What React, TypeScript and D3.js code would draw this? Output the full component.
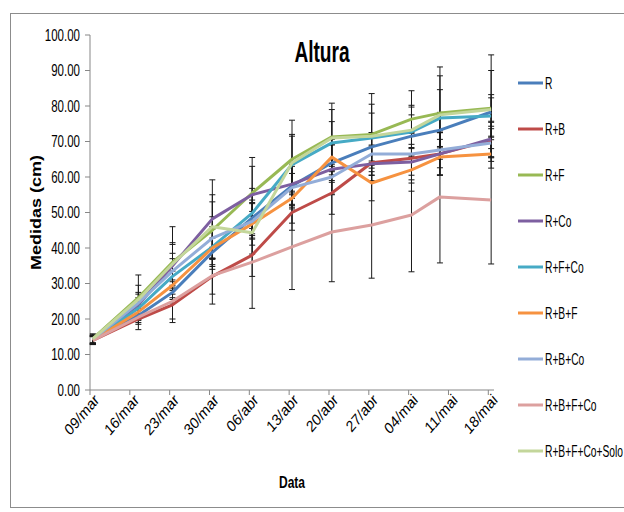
import React from 'react';
import * as d3 from 'd3';

// measurement dates (one point per date)
const dates = ['2013-03-09', '2013-03-17', '2013-03-23', '2013-03-30', '2013-04-06', '2013-04-13',
  '2013-04-20', '2013-04-27', '2013-05-04', '2013-05-09', '2013-05-18'];

const tickLabels = ['09/mar', '16/mar', '23/mar', '30/mar', '06/abr', '13/abr', '20/abr', '27/abr', '04/mai', '11/mai', '18/mai'];
const yTicks = [0, 10, 20, 30, 40, 50, 60, 70, 80, 90, 100];

const seriesNames = ['R', 'R+B', 'R+F', 'R+Co', 'R+F+Co', 'R+B+F', 'R+B+Co', 'R+B+F+Co', 'R+B+F+Co+Solo'];
const seriesColors = ['#4A7EBB', '#BE4B48', '#98B954', '#7D5FA0', '#46AAC5', '#F69240', '#93ADD8', '#DCA09F', '#C3D69B'];

const valR = [14.2, 21.0, 27.5, 38.8, 48.5, 57.5, 64.0, 68.5, 71.5, 73.2, 78.3];
const valRB = [14.0, 20.0, 24.0, 32.0, 38.0, 50.0, 55.5, 64.0, 65.3, 66.5, 70.4];
const valRF = [14.5, 26.0, 36.0, 45.0, 55.5, 65.0, 71.3, 72.0, 76.3, 78.0, 79.4];
const valRCo = [14.2, 24.0, 35.0, 48.2, 55.0, 58.0, 62.2, 63.7, 64.2, 66.5, 70.7];
const valRFCo = [14.0, 23.0, 32.0, 40.3, 49.8, 63.5, 69.6, 71.0, 72.7, 76.6, 77.2];
const valRBF = [14.0, 22.0, 29.5, 40.0, 46.8, 54.0, 65.6, 58.3, 62.0, 65.6, 66.5];
const valRBCo = [14.3, 24.5, 33.5, 42.8, 47.5, 57.0, 60.0, 66.5, 66.5, 67.6, 69.6];
const valRBFCo = [14.0, 20.5, 25.0, 32.2, 36.0, 40.3, 44.5, 46.5, 49.3, 54.4, 53.5];
const valSolo = [14.4, 25.5, 35.5, 46.0, 44.3, 64.0, 71.0, 71.5, 73.2, 77.5, 79.0];

// standard deviations (error bars)
const sdR = [1.2, 2, 3, 4, 5, 6, 5, 4, 6, 5, 4];
const sdRB = [1.2, 1.5, 4, 5, 6, 5, 6, 5, 7, 6, 5];
const sdRF = [1.3, 6.4, 10, 8, 10, 11, 9.5, 11.5, 8, 13, 15];
const sdRCo = [1.0, 3, 6, 11, 8, 6, 7, 5, 5, 6, 5];
const sdRFCo = [1.1, 3, 5, 5, 7, 8, 6, 7, 7, 8, 6];
const sdRBF = [1.2, 2, 4, 6, 6, 7, 5, 5, 6, 5, 4];
const sdRBCo = [1.0, 3, 5, 6, 5, 6, 5, 6, 6, 5, 4];
const sdRBFCo = [1.0, 3.5, 6, 8, 13, 12, 14, 15, 16, 18.6, 18];
const sdSolo = [1.3, 4, 6, 9, 6, 8, 8, 9, 7, 11, 11];

const values = [valR, valRB, valRF, valRCo, valRFCo, valRBF, valRBCo, valRBFCo, valSolo];
const sds = [sdR, sdRB, sdRF, sdRCo, sdRFCo, sdRBF, sdRBCo, sdRBFCo, sdSolo];

const FONT = '"Liberation Sans", Arial, sans-serif';

function App() {
  const parse = d3.utcParse('%Y-%m-%d');
  const pts = dates.map(d => d3.utcHour.offset(parse(d) as Date, 12));
  const start = parse(dates[0]) as Date;
  const end = d3.utcDay.offset(parse(dates[dates.length - 1]) as Date, 1);

  const x = d3.scaleUtc().domain([start, end]).range([90, 494]);
  const y = d3.scaleLinear().domain([0, 100]).range([390, 35]);
  const tickDates = d3.utcDay.range(start, end, 1).filter((_, i) => i % 7 === 0);

  const line = d3.line<number>()
    .x((_, i) => x(pts[i]))
    .y(v => y(v));

  const axisColor = '#878787';

  return (
    <svg width={624} height={512} style={{ position: 'absolute', left: 0, top: 0, background: '#fff' }}>
      <rect x={10.5} y={13.5} width={640} height={494} fill="none" stroke="#8c8c8c" />

      <text transform="translate(322,62) scale(0.66,1)" textAnchor="middle" fontFamily={FONT}
        fontWeight="bold" fontSize={29}>Altura</text>

      {/* y axis */}
      <line x1={90} x2={90} y1={y(100)} y2={y(0)} stroke={axisColor} />
      {yTicks.map(t => (
        <g key={t}>
          <line x1={85} x2={90} y1={y(t)} y2={y(t)} stroke={axisColor} />
          <text transform={`translate(80,${y(t) + 5.5}) scale(0.72,1)`} textAnchor="end"
            fontFamily={FONT} fontSize={16}>{t.toFixed(2)}</text>
        </g>
      ))}
      <text transform={`translate(41,${(y(0) + y(100)) / 2}) rotate(-90) scale(1,0.85)`} textAnchor="middle"
        fontFamily={FONT} fontWeight="bold" fontSize={18}>Medidas (cm)</text>

      {/* x axis */}
      <line x1={90} x2={494} y1={390} y2={390} stroke={axisColor} />
      {tickDates.map((d, i) => (
        <g key={i}>
          <line x1={x(d)} x2={x(d)} y1={390} y2={395} stroke={axisColor} />
          <text transform={`translate(${x(d) + 10},${401}) scale(0.85,1) rotate(-45)`} textAnchor="end"
            fontFamily={FONT} fontSize={16}>{tickLabels[i]}</text>
        </g>
      ))}
      <text transform="translate(292,488) scale(0.75,1)" textAnchor="middle" fontFamily={FONT}
        fontWeight="bold" fontSize={16}>Data</text>

      {/* error bars */}
      {values.map((vals, s) => (
        <g key={s} stroke="#1a1a1a" strokeWidth={1}>
          {vals.map((v, i) => {
            const cx = x(pts[i]);
            const hi = y(v + sds[s][i]);
            const lo = y(v - sds[s][i]);
            return (
              <g key={i}>
                <line x1={cx} x2={cx} y1={hi} y2={lo} />
                <line x1={cx - 3} x2={cx + 3} y1={hi} y2={hi} />
                <line x1={cx - 3} x2={cx + 3} y1={lo} y2={lo} />
              </g>
            );
          })}
        </g>
      ))}

      {/* series lines */}
      {values.map((vals, s) => (
        <path key={s} d={line(vals) || ''} fill="none" stroke={seriesColors[s]} strokeWidth={3}
          strokeLinejoin="round" />
      ))}

      {/* legend */}
      {seriesNames.map((name, s) => {
        const ly = 83 + s * 46;
        return (
          <g key={name}>
            <line x1={518} x2={543} y1={ly} y2={ly} stroke={seriesColors[s]} strokeWidth={3} />
            <text transform={`translate(545,${ly + 6}) scale(0.64,1)`} fontFamily={FONT} fontSize={16}>{name}</text>
          </g>
        );
      })}
    </svg>
  );
}

export default App;
